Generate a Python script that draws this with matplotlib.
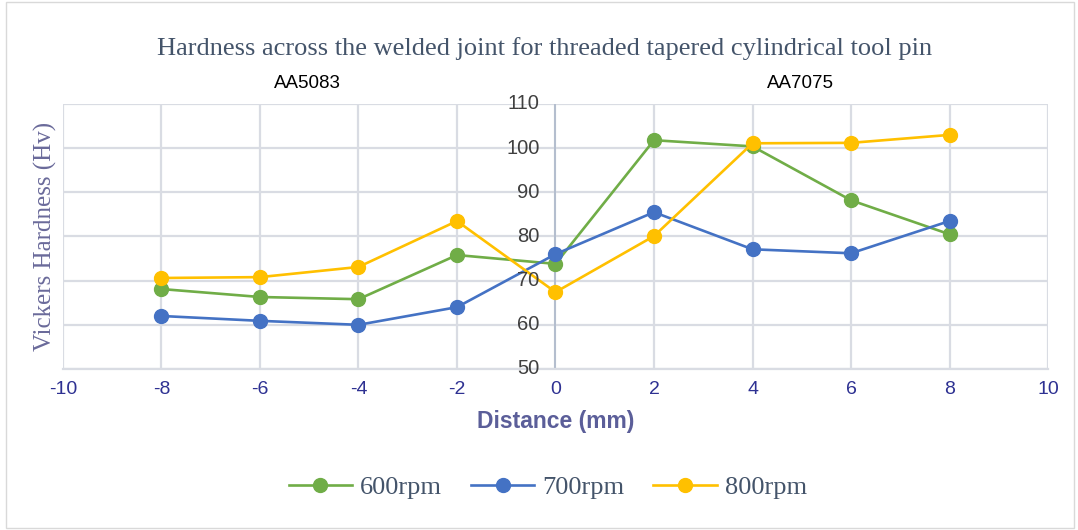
import matplotlib.pyplot as plt
from matplotlib.patches import Rectangle

plt.rcParams['axes.unicode_minus'] = False

distance = [-8, -6, -4, -2, 0, 2, 4, 6, 8]
hv_600 = [68.1, 66.3, 65.8, 75.8, 73.8, 101.8, 100.4, 88.2, 80.5]
hv_700 = [62.0, 60.9, 60.0, 64.0, 76.0, 85.5, 77.1, 76.2, 83.5]
hv_800 = [70.6, 70.8, 73.1, 83.5, 67.4, 80.1, 101.1, 101.2, 103.0]
series_names = ['600rpm', '700rpm', '800rpm']
colors = ['#70AD47', '#4472C4', '#FFC000']

fig = plt.figure(figsize=(10.78, 5.30), dpi=100)
fig.patches.append(Rectangle((0.006, 0.004), 0.99, 0.992, transform=fig.transFigure,
                             fill=False, edgecolor='#D9D9D9', lw=1.0))
ax = fig.add_axes([0.0584, 0.3038, 0.9138, 0.5])

for vals, name, c in zip([hv_600, hv_700, hv_800], series_names, colors):
    ax.plot(distance, vals, color=c, lw=1.9, marker='o', ms=10, label=name, zorder=3)

ax.set_xlim(-10, 10)
ax.set_ylim(50, 110)
ax.set_xticks(range(-10, 11, 2))
ax.set_yticks(range(50, 111, 10))
ax.grid(True, color='#D9DCE3', lw=1.6, zorder=0)
for s in ['top', 'right', 'left']:
    ax.spines[s].set_visible(False)
ax.spines['bottom'].set_color('#D9DCE3')
ax.spines['bottom'].set_linewidth(1.6)
ax.axvline(0, color='#ADB9CA', lw=1.2, zorder=2)
ax.tick_params(length=0)
ax.tick_params(axis='x', labelsize=14, labelcolor='#2E3192', pad=9)
ax.set_yticklabels([])
for yv in range(50, 111, 10):
    ax.text(-0.32, yv, str(yv), ha='right', va='center', fontsize=14.5,
            color='#404040', family='Liberation Sans')
for lab in ax.get_xticklabels():
    lab.set_family('Liberation Sans')

ax.set_xlabel('Distance (mm)', fontsize=16.5, fontweight='bold', color='#5B5E99',
              family='Liberation Sans', labelpad=8)
fig.text(0.042, 0.553, 'Vickers Hardness (Hv)', rotation=90, ha='center', va='center',
         fontsize=18, color='#6A6A9A', family='Liberation Serif')

fig.text(0.505, 0.908, 'Hardness across the welded joint for threaded tapered cylindrical tool pin',
         ha='center', va='center', fontsize=19, color='#44546A', family='Liberation Serif')
fig.text(0.285, 0.842, 'AA5083', ha='center', va='center', fontsize=13.5,
         color='black', family='Liberation Sans')
fig.text(0.743, 0.842, 'AA7075', ha='center', va='center', fontsize=13.5,
         color='black', family='Liberation Sans')

leg = fig.legend(loc='center', bbox_to_anchor=(0.508, 0.081), ncol=3, frameon=False,
                 prop={'family': 'Liberation Serif', 'size': 19}, handlelength=2.4,
                 columnspacing=1.1, handletextpad=0.3)
for t in leg.get_texts():
    t.set_color('#44546A')

fig.savefig('out.png', dpi=100)
